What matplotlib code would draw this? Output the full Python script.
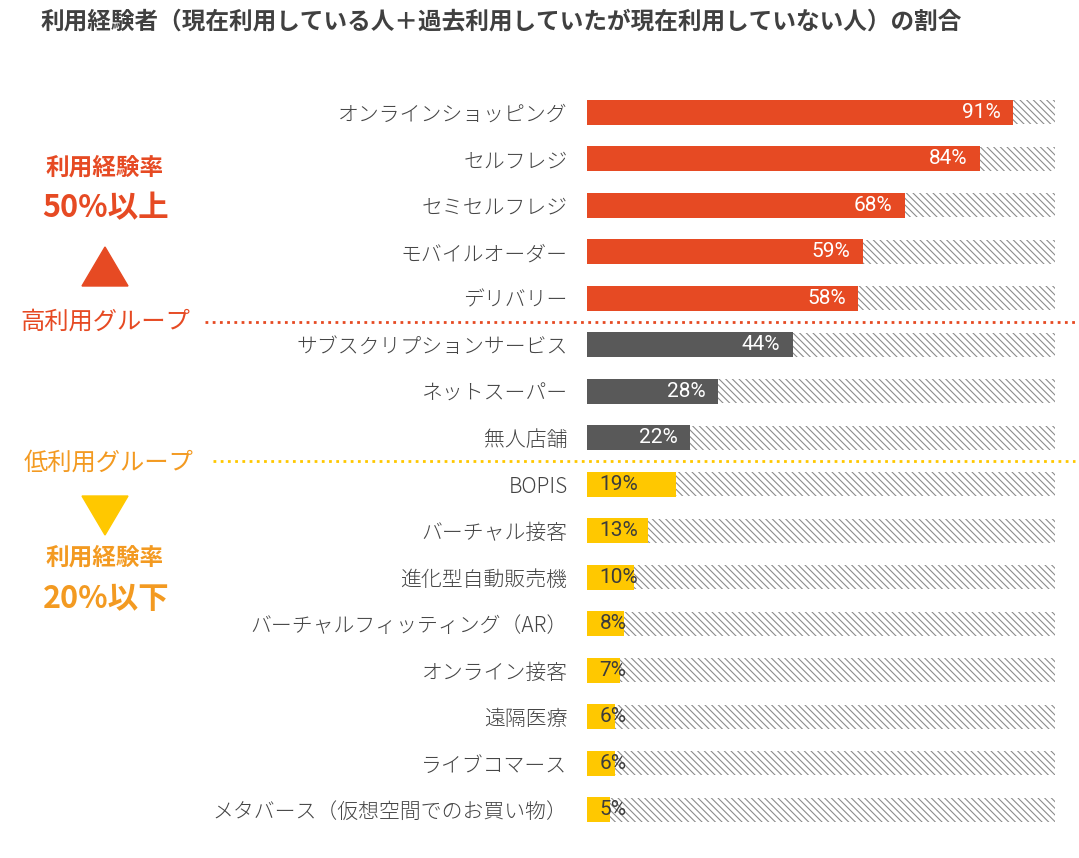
import matplotlib.pyplot as plt
import matplotlib.transforms as mtransforms
import numpy as np

plt.rcParams['font.family'] = ['Noto Sans CJK JP', 'DejaVu Sans']
plt.rcParams['hatch.linewidth'] = 0.8

# data
categories = ['オンラインショッピング', 'セルフレジ', 'セミセルフレジ', 'モバイルオーダー', 'デリバリー',
              'サブスクリプションサービス', 'ネットスーパー', '無人店舗',
              'BOPIS', 'バーチャル接客', '進化型自動販売機', 'バーチャルフィッティング（AR）',
              'オンライン接客', '遠隔医療', 'ライブコマース', 'メタバース（仮想空間でのお買い物）']
values = [91, 84, 68, 59, 58, 44, 28, 22, 19, 13, 10, 8, 7, 6, 6, 5]
groups = ['high'] * 5 + ['mid'] * 3 + ['low'] * 8

RED = '#e64a23'
GRAY = '#595959'
YELLOW = '#ffc800'
ORANGE = '#f39a21'
grp_color = {'high': RED, 'mid': GRAY, 'low': YELLOW}

W, H = 1079, 858
fig = plt.figure(figsize=(W / 100, H / 100), dpi=100)
ax = fig.add_axes([587 / W, 25 / H, 468 / W, 744 / H])

y = np.arange(len(categories))
# hatched background to 100%
ax.barh(y, [100] * len(y), height=0.52, color='white', edgecolor='#8c8c8c',
        hatch='\\\\\\\\\\', linewidth=0)
ax.barh(y, values, height=0.54, color=[grp_color[g] for g in groups], linewidth=0)

for yi, v, g in zip(y, values, groups):
    if g == 'low':
        ax.annotate(f'{v}%', (0, yi), xytext=(9, 0), textcoords='offset points',
                    ha='left', va='center', color='#3c3c3c', fontsize=15, family='Roboto')
    else:
        ax.annotate(f'{v}%', (v, yi), xytext=(-9, 0), textcoords='offset points',
                    ha='right', va='center', color='white', fontsize=15, family='Roboto')

ax.set_xlim(0, 100)
ax.set_ylim(len(y) - 0.5, -0.5)
ax.set_yticks(y)
ax.set_yticklabels(categories, fontsize=15, color='#444444', fontweight='light')
ax.tick_params(axis='y', length=0, pad=14)
ax.set_xticks([])
for s in ax.spines.values():
    s.set_visible(False)

# group separators
trans = mtransforms.blended_transform_factory(fig.transFigure, ax.transData)
ax.plot([205 / W, 1075 / W], [4.5, 4.5], transform=trans, color=RED, ls=(0, (1, 1.6)),
        lw=2, clip_on=False)
ax.plot([213 / W, 1075 / W], [7.5, 7.5], transform=trans, color=YELLOW, ls=(0, (1, 1.6)),
        lw=2, clip_on=False)

def ftext(px, py, s, **kw):
    fig.text(px / W, 1 - py / H, s, ha='center', va='center', **kw)

ftext(105, 322, '高利用グループ', fontsize=17.5, color=RED)
ftext(108, 463, '低利用グループ', fontsize=17.5, color=ORANGE)
ftext(105, 168, '利用経験率', fontsize=17, color=RED, fontweight='bold')
ftext(106, 208, '50%以上', fontsize=22, color=RED, fontweight='bold')
ftext(105, 558, '利用経験率', fontsize=17, color=ORANGE, fontweight='bold')
ftext(106, 599, '20%以下', fontsize=22, color=ORANGE, fontweight='bold')
fig.add_artist(plt.Polygon([[82 / W, 1 - 286 / H], [128 / W, 1 - 286 / H], [105 / W, 1 - 247 / H]],
                           closed=True, color=RED, transform=fig.transFigure))
fig.add_artist(plt.Polygon([[82 / W, 1 - 496 / H], [128 / W, 1 - 496 / H], [105 / W, 1 - 535 / H]],
                           closed=True, color=YELLOW, transform=fig.transFigure))

fig.text(40 / W, 1 - 22 / H, '利用経験者（現在利用している人＋過去利用していたが現在利用していない人）の割合',
         ha='left', va='center', fontsize=17, fontweight='bold', color='#404040')

fig.savefig('out.png', dpi=100)
